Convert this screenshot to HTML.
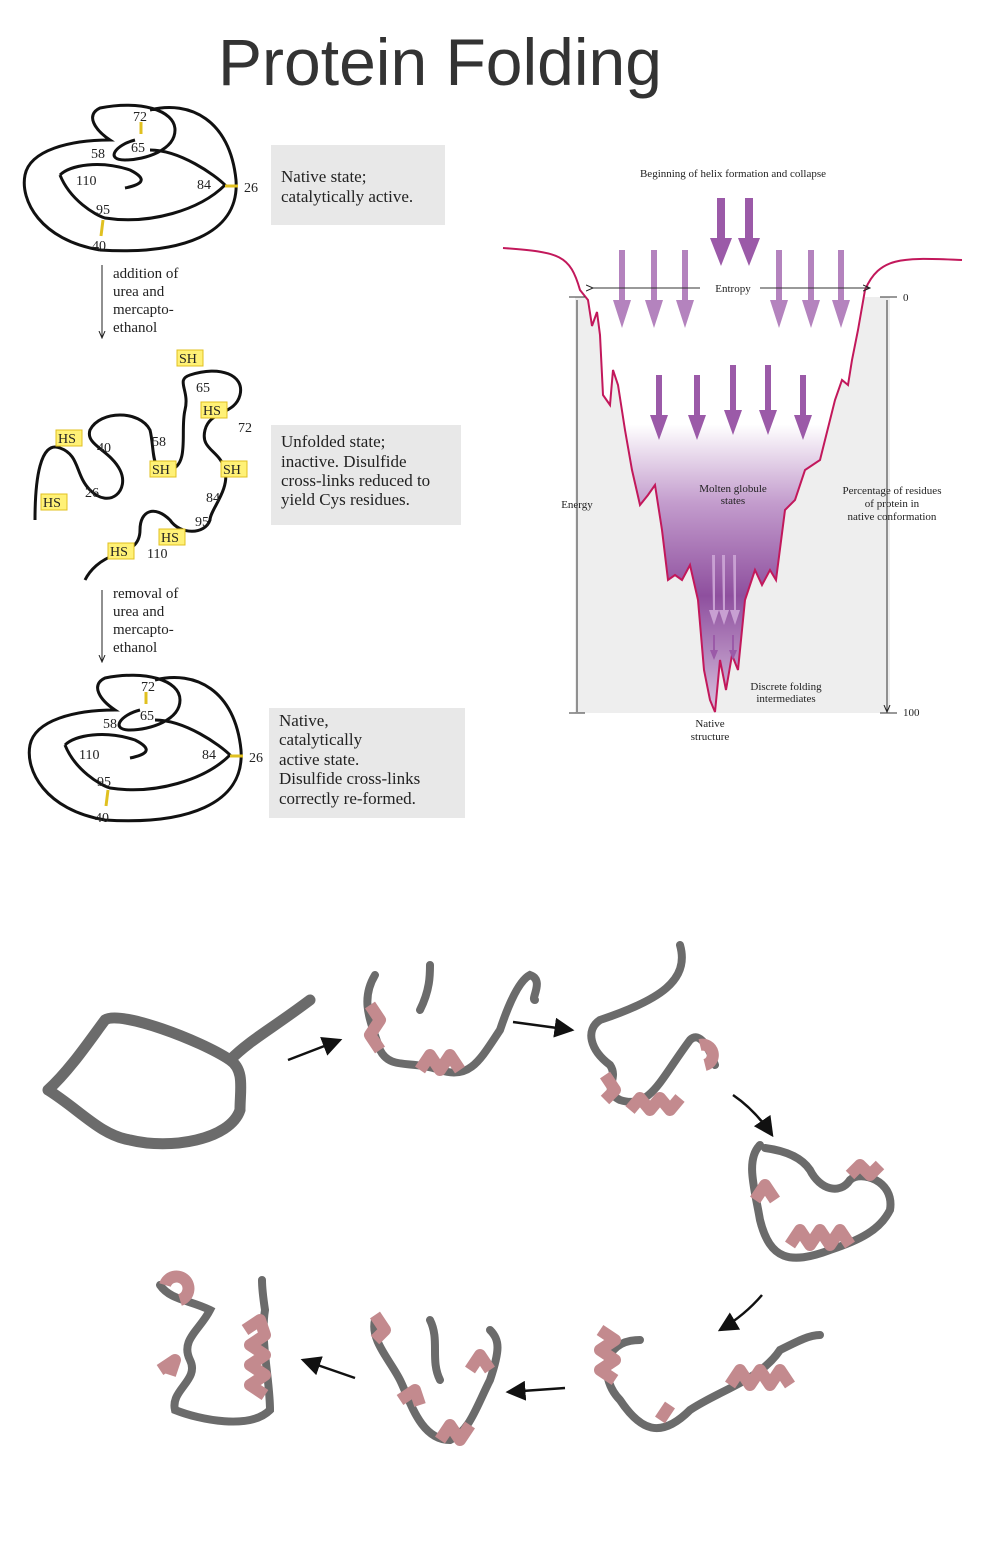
<!DOCTYPE html>
<html><head><meta charset="utf-8"><style>
body{margin:0;background:#fff;width:988px;height:1541px;overflow:hidden}
svg{display:block}
.s{font-family:"Liberation Serif",serif;fill:#222}
</style></head><body>
<svg width="988" height="1541" viewBox="0 0 988 1541" xmlns="http://www.w3.org/2000/svg">
<defs>
<linearGradient id="pg" x1="0" y1="0" x2="0" y2="1">
<stop offset="0" stop-color="#fff"/><stop offset="0.38" stop-color="#fff"/>
<stop offset="0.55" stop-color="#c39ccd"/><stop offset="0.75" stop-color="#8e4f9e"/><stop offset="1" stop-color="#d9c2df"/>
</linearGradient>
<marker id="ah" markerWidth="8" markerHeight="8" refX="7" refY="4" orient="auto"><path d="M0,0 L8,4 L0,8 z" fill="#111"/></marker>
<marker id="sa" markerWidth="8" markerHeight="8" refX="7" refY="4" orient="auto"><path d="M0,1 L7,4 L0,7" fill="none" stroke="#222"/></marker>
</defs>
<text x="440" y="85" text-anchor="middle" font-family="Liberation Sans,sans-serif" font-size="66" fill="#333">Protein Folding</text>

<g fill="none" stroke="#111" stroke-width="3">
<path d="M100,250 C40,240 20,200 25,175 C30,150 70,140 110,140 C95,130 85,115 100,108 C140,100 175,110 175,130 C175,150 145,160 125,160 C105,160 115,145 135,140 M150,110 C190,100 230,120 236,180 C240,235 180,255 100,250 M60,175 C70,165 100,160 130,170 C150,180 140,185 125,188 M60,175 C70,200 95,215 105,218 C150,225 200,210 225,185 C215,175 180,150 150,150"/>
</g>
<g stroke="#e0c020" stroke-width="3"><line x1="141" y1="122" x2="141" y2="134"/><line x1="225" y1="186" x2="238" y2="186"/><line x1="103" y1="220" x2="101" y2="236"/></g>
<g class="s" font-size="14"><text x="133" y="121">72</text><text x="131" y="152">65</text><text x="91" y="158">58</text><text x="76" y="185">110</text><text x="197" y="189">84</text><text x="244" y="192">26</text><text x="96" y="214">95</text><text x="92" y="250">40</text></g>
<rect x="271" y="145" width="174" height="80" fill="#e8e8e8"/>
<text class="s" font-size="17" x="281" y="182">Native state;</text><text class="s" font-size="17" x="281" y="202">catalytically active.</text>

<line x1="102" y1="265" x2="102" y2="338" stroke="#222" marker-end="url(#sa)"/>
<g class="s" font-size="15"><text x="113" y="278">addition of</text><text x="113" y="296">urea and</text><text x="113" y="314">mercapto-</text><text x="113" y="332">ethanol</text></g>

<path d="M35,520 C35,480 40,440 60,448 C80,455 75,475 90,490 C110,510 130,490 120,470 C110,450 85,445 90,430 C100,410 140,410 150,430 C155,450 150,475 170,470 C190,465 180,430 185,410 C190,390 175,380 190,375 C220,365 245,375 240,395 C235,415 210,410 205,430 C200,450 220,450 225,470 C230,490 210,510 210,520 C205,535 180,535 170,520 C155,505 140,510 140,530 C140,545 130,550 115,555 C100,560 90,570 85,580" fill="none" stroke="#111" stroke-width="3"/>
<g fill="#fff176" stroke="#e0c020"><rect x="177" y="350" width="26" height="16"/><rect x="201" y="402" width="26" height="16"/><rect x="56" y="430" width="26" height="16"/><rect x="150" y="461" width="26" height="16"/><rect x="221" y="461" width="26" height="16"/><rect x="41" y="494" width="26" height="16"/><rect x="159" y="529" width="26" height="16"/><rect x="108" y="543" width="26" height="16"/></g>
<g class="s" font-size="14"><text x="179" y="363">SH</text><text x="203" y="415">HS</text><text x="58" y="443">HS</text><text x="152" y="474">SH</text><text x="223" y="474">SH</text><text x="43" y="507">HS</text><text x="161" y="542">HS</text><text x="110" y="556">HS</text>
<text x="196" y="392">65</text><text x="238" y="432">72</text><text x="97" y="452">40</text><text x="152" y="446">58</text><text x="85" y="497">26</text><text x="206" y="502">84</text><text x="195" y="526">95</text><text x="147" y="558">110</text></g>
<rect x="271" y="425" width="190" height="100" fill="#e8e8e8"/>
<g class="s" font-size="17"><text x="281" y="447">Unfolded state;</text><text x="281" y="467">inactive.  Disulfide</text><text x="281" y="486">cross-links reduced to</text><text x="281" y="505">yield Cys residues.</text></g>

<line x1="102" y1="590" x2="102" y2="662" stroke="#222" marker-end="url(#sa)"/>
<g class="s" font-size="15"><text x="113" y="598">removal of</text><text x="113" y="616">urea and</text><text x="113" y="634">mercapto-</text><text x="113" y="652">ethanol</text></g>

<g transform="translate(5,570)">
<path d="M100,250 C40,240 20,200 25,175 C30,150 70,140 110,140 C95,130 85,115 100,108 C140,100 175,110 175,130 C175,150 145,160 125,160 C105,160 115,145 135,140 M150,110 C190,100 230,120 236,180 C240,235 180,255 100,250 M60,175 C70,165 100,160 130,170 C150,180 140,185 125,188 M60,175 C70,200 95,215 105,218 C150,225 200,210 225,185 C215,175 180,150 150,150" fill="none" stroke="#111" stroke-width="3"/>
<g stroke="#e0c020" stroke-width="3"><line x1="141" y1="122" x2="141" y2="134"/><line x1="225" y1="186" x2="238" y2="186"/><line x1="103" y1="220" x2="101" y2="236"/></g>
<g class="s" font-size="14"><text x="136" y="121">72</text><text x="135" y="150">65</text><text x="98" y="158">58</text><text x="74" y="189">110</text><text x="197" y="189">84</text><text x="244" y="192">26</text><text x="92" y="216">95</text><text x="90" y="252">40</text></g>
</g>
<rect x="269" y="708" width="196" height="110" fill="#e8e8e8"/>
<g class="s" font-size="17"><text x="279" y="726">Native,</text><text x="279" y="745">catalytically</text><text x="279" y="765">active state.</text><text x="279" y="784">Disulfide cross-links</text><text x="279" y="804">correctly re-formed.</text></g>

<rect x="575" y="297" width="315" height="416" fill="#eeeeee"/>
<path d="M503,248 C560,252 570,255 580,290 L588,300 L592,326 L597,312 L600,335 L603,395 L610,405 L613,370 L618,385 L625,430 L632,470 L640,505 L648,495 L655,485 L662,530 L668,580 L675,575 L682,580 L690,565 L698,600 L704,670 L710,700 L715,712 L720,660 L726,690 L732,655 L738,670 L745,600 L755,570 L762,585 L770,570 L776,580 L785,510 L795,500 L805,470 L820,460 L835,400 L842,380 L848,385 L852,360 L858,330 L865,290 C880,255 905,258 962,260" fill="url(#pg)" stroke="#c2185b" stroke-width="2"/>
<g fill="#9b5aa8">
<path d="M717,198 h8 v40 h7 l-11,28 l-11,-28 h7z"/><path d="M745,198 h8 v40 h7 l-11,28 l-11,-28 h7z"/>
<path d="M619,250 h6 v50 h6 l-9,28 l-9,-28 h6z" opacity=".75"/><path d="M651,250 h6 v50 h6 l-9,28 l-9,-28 h6z" opacity=".75"/><path d="M682,250 h6 v50 h6 l-9,28 l-9,-28 h6z" opacity=".75"/>
<path d="M776,250 h6 v50 h6 l-9,28 l-9,-28 h6z" opacity=".75"/><path d="M808,250 h6 v50 h6 l-9,28 l-9,-28 h6z" opacity=".75"/><path d="M838,250 h6 v50 h6 l-9,28 l-9,-28 h6z" opacity=".75"/>
<path d="M656,375 h6 v40 h6 l-9,25 l-9,-25 h6z"/><path d="M694,375 h6 v40 h6 l-9,25 l-9,-25 h6z"/><path d="M730,365 h6 v45 h6 l-9,25 l-9,-25 h6z"/><path d="M765,365 h6 v45 h6 l-9,25 l-9,-25 h6z"/><path d="M800,375 h6 v40 h6 l-9,25 l-9,-25 h6z"/>
<path d="M712,555 h3 v55 h4 l-5,15 l-5,-15 h4z" fill="#c8a0d2"/><path d="M722,555 h3 v55 h4 l-5,15 l-5,-15 h4z" fill="#c8a0d2"/><path d="M733,555 h3 v55 h4 l-5,15 l-5,-15 h4z" fill="#c8a0d2"/>
<path d="M713,635 h2 v15 h3 l-4,10 l-4,-10 h3z"/><path d="M732,635 h2 v15 h3 l-4,10 l-4,-10 h3z"/>
</g>
<g stroke="#333" fill="none" stroke-width="1"><line x1="593" y1="288" x2="700" y2="288" marker-start="url(#sa)"/><line x1="760" y1="288" x2="870" y2="288" marker-end="url(#sa)"/>
<line x1="577" y1="300" x2="577" y2="712"/><line x1="569" y1="297" x2="585" y2="297"/><line x1="569" y1="713" x2="585" y2="713"/>
<line x1="887" y1="300" x2="887" y2="712" marker-end="url(#sa)"/><line x1="880" y1="297" x2="897" y2="297"/><line x1="880" y1="713" x2="897" y2="713"/></g>
<g class="s" font-size="11"><text x="733" y="177" text-anchor="middle">Beginning of helix formation and collapse</text><text x="733" y="292" text-anchor="middle">Entropy</text><text x="903" y="301">0</text><text x="903" y="716">100</text><text x="577" y="508" text-anchor="middle">Energy</text>
<text x="733" y="492" text-anchor="middle">Molten globule</text><text x="733" y="504" text-anchor="middle">states</text>
<text x="892" y="494" text-anchor="middle">Percentage of residues</text><text x="892" y="507" text-anchor="middle">of protein in</text><text x="892" y="520" text-anchor="middle">native conformation</text>
<text x="786" y="690" text-anchor="middle">Discrete folding</text><text x="786" y="702" text-anchor="middle">intermediates</text><text x="710" y="727" text-anchor="middle">Native</text><text x="710" y="740" text-anchor="middle">structure</text></g>

<g fill="none" stroke="#6b6b6b" stroke-width="11" stroke-linecap="round">
<path d="M48,1090 C70,1070 90,1040 105,1020 C120,1010 200,1040 230,1060 C245,1070 240,1090 240,1110 C230,1140 170,1150 130,1140 C100,1135 80,1110 48,1090 M230,1060 C250,1040 270,1030 310,1000"/>
</g>
<g fill="none" stroke="#6b6b6b" stroke-width="8" stroke-linecap="round">
<path d="M375,975 C360,1000 370,1020 380,1050 C390,1070 410,1060 440,1070 C470,1080 480,1060 500,1030 C510,1000 520,980 530,975 C545,980 530,1000 535,1000 M420,1010 C430,990 430,975 430,965"/>
<path d="M680,945 C690,980 660,1000 600,1020 C585,1030 590,1050 610,1065 C620,1080 600,1090 620,1100 C650,1110 660,1080 690,1040 C700,1030 710,1050 715,1065"/>
<path d="M760,1145 C745,1160 755,1190 760,1220 C770,1260 790,1265 830,1250 C860,1240 880,1230 890,1210 C895,1180 860,1170 850,1180 C840,1195 820,1190 810,1170 C800,1155 780,1150 765,1148"/>
<path d="M640,1340 C600,1340 600,1380 620,1400 C640,1430 660,1440 690,1410 C720,1390 760,1380 780,1350 C800,1340 810,1335 820,1335"/>
<path d="M375,1320 C370,1340 390,1360 400,1380 C410,1400 420,1440 450,1440 C470,1430 475,1410 490,1380 C500,1350 500,1340 490,1330 M430,1320 C440,1340 430,1360 440,1380"/>
<path d="M160,1285 C170,1300 190,1300 210,1310 C200,1330 180,1340 190,1360 C200,1380 170,1390 175,1410 C200,1420 250,1430 270,1410 C270,1380 260,1340 265,1310 C262,1290 262,1285 262,1280"/>
</g>
<g fill="none" stroke="#c38a8e" stroke-width="12" stroke-linejoin="round">
<path d="M370,1005 l10,15 l-10,15 l10,15 M420,1070 l10,-15 l10,15 l10,-15 l10,15"/>
<path d="M605,1075 l10,15 l-10,10 M630,1110 l10,-12 l10,12 l10,-12 l10,12 l10,-12 M700,1045 a10,10 0 1 1 5,20"/>
<path d="M755,1200 l10,-15 l10,15 M790,1245 l10,-15 l10,15 l10,-15 l10,15 l10,-15 l10,15 M850,1175 l10,-10 l10,10 l10,-10"/>
<path d="M600,1330 l15,10 l-15,10 l15,10 l-15,10 l15,10 M660,1420 l10,-15 M730,1385 l10,-15 l10,15 l10,-15 l10,15 l10,-15 l10,15"/>
<path d="M375,1315 l10,15 l-10,10 M400,1400 l15,-10 l5,15 M440,1440 l10,-15 l10,15 l10,-15 M470,1370 l10,-15 l10,15"/>
<path d="M165,1285 a12,12 0 1 1 15,15 M160,1370 l15,-10 l-5,15 M245,1330 l15,-10 l5,15 l-15,10 l15,10 l-15,10 l15,10 l-15,10 l15,10"/>
</g>
<g stroke="#111" stroke-width="2.5" marker-end="url(#ah)" fill="none">
<path d="M288,1060 L340,1040"/><path d="M513,1022 L572,1030"/><path d="M733,1095 Q755,1110 772,1135"/><path d="M762,1295 Q745,1315 720,1330"/><path d="M565,1388 L508,1392"/><path d="M355,1378 L303,1360"/>
</g>
</svg>
</body></html>
